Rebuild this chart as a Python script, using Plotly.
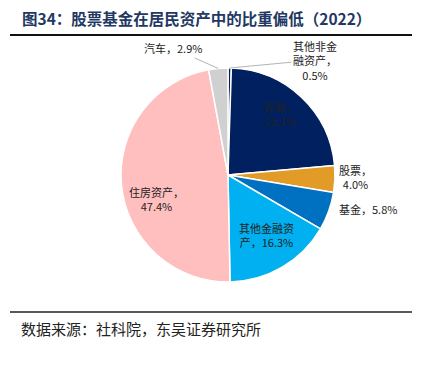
import math
import plotly.graph_objects as go

categories = ["其他非金融资产", "存款", "股票", "基金", "其他金融资产", "住房资产", "汽车"]
values = [0.5, 23.1, 4.0, 5.8, 16.3, 47.4, 2.9]
label_texts = ["其他非金<br>融资产，<br>0.5%", "存款，<br>23.1%", "股票，<br>4.0%", "基金，5.8%",
               "其他金融资<br>产，16.3%", "住房资产，<br>47.4%", "汽车，2.9%"]
colors = ["#0B1F4D", "#002060", "#E39B28", "#0070C0", "#00B0F0", "#FFBFBF", "#D0D0D0"]

# label placement styles: radius factor, pixel nudge (dx, dy), leader-line offset (ax, ay) or None
label_radius = [1.0, 0.75, 1.19, 1.33, 0.67, 0.70, 1.0]
label_nudge = [(0, 0), (-3, -3), (0, -3), (6, -14), (2, -2), (3, 16), (0, 0)]
label_leader = [(85, -8), None, None, None, None, None, (-45, -20)]

W, H = 422, 368
cx, cy, r = 228, 175, 107
RULE_X = (10, 412)
TOP_RULE_Y = 35
BOT_RULE_Y = 312

fig = go.Figure(go.Pie(
    labels=categories, values=values, textinfo="none",
    sort=False, direction="clockwise", rotation=0,
    marker=dict(colors=colors, line=dict(color="white", width=1.5)),
    hoverinfo="label+percent",
    domain=dict(x=[(cx - r) / W, (cx + r) / W], y=[1 - (cy + r) / H, 1 - (cy - r) / H]),
    showlegend=False,
))

annotations = []
total = sum(values)
cum = 0.0
for i, v in enumerate(values):
    mid = (cum + v / 2) / total * 2 * math.pi
    cum += v
    k = label_radius[i]
    px = cx + k * r * math.sin(mid)
    py = cy - k * r * math.cos(mid)
    font = dict(family="Noto Sans CJK SC", size=11, color="#222")
    if label_leader[i] is not None:
        ax, ay = label_leader[i]
        annotations.append(dict(text=label_texts[i], xref="paper", yref="paper",
                                x=px / W, y=1 - py / H, ax=ax, ay=ay, showarrow=True,
                                arrowhead=0, arrowwidth=0.8, arrowcolor="#A0A0A0",
                                font=font, align="center"))
    else:
        dx, dy = label_nudge[i]
        annotations.append(dict(text=label_texts[i], xref="paper", yref="paper",
                                x=(px + dx) / W, y=1 - (py + dy) / H, showarrow=False,
                                xanchor="center", yanchor="middle", font=font, align="center"))

# header rule as an arrow-only annotation (drawn in the top info layer)
annotations.append(dict(text="", xref="paper", yref="paper",
                        x=RULE_X[1] / W, y=1 - TOP_RULE_Y / H,
                        ax=RULE_X[0] / W, ay=1 - TOP_RULE_Y / H, axref="x domain" if False else "pixel",
                        showarrow=False))

annotations += [
    dict(text="<b>图34：股票基金在居民资产中的比重偏低（2022）</b>", xref="paper", yref="paper",
         x=20 / W, y=1 - 18 / H, xanchor="left", yanchor="middle", showarrow=False,
         bgcolor="rgba(0,0,0,0)",
         font=dict(family="Noto Sans CJK SC", size=15.5, color="#1F3864")),
    dict(text="数据来源：社科院，东吴证券研究所", xref="paper", yref="paper",
         x=19 / W, y=1 - 328 / H, xanchor="left", yanchor="middle", showarrow=False,
         font=dict(family="Noto Sans CJK SC", size=15, color="#222")),
]
annotations.pop(-3)  # drop placeholder

top_y = 1 - TOP_RULE_Y / H
bot_y = 1 - BOT_RULE_Y / H
fig.update_layout(
    width=W, height=H, margin=dict(l=0, r=0, t=0, b=0),
    paper_bgcolor="white", plot_bgcolor="rgba(0,0,0,0)",
    shapes=[
        dict(type="rect", xref="paper", yref="paper", x0=RULE_X[0] / W, x1=RULE_X[1] / W,
             y0=top_y - 1.1 / H, y1=top_y + 1.1 / H, layer="above",
             fillcolor="#111", line=dict(width=0)),
        dict(type="rect", xref="paper", yref="paper", x0=RULE_X[0] / W, x1=RULE_X[1] / W,
             y0=bot_y - 0.75 / H, y1=bot_y + 0.75 / H, layer="above",
             fillcolor="#222", line=dict(width=0)),
    ],
    annotations=annotations,
)

fig.write_html("out.html", config={"displayModeBar": False},
               post_script="document.body.style.margin='0';document.body.style.overflow='hidden';")
